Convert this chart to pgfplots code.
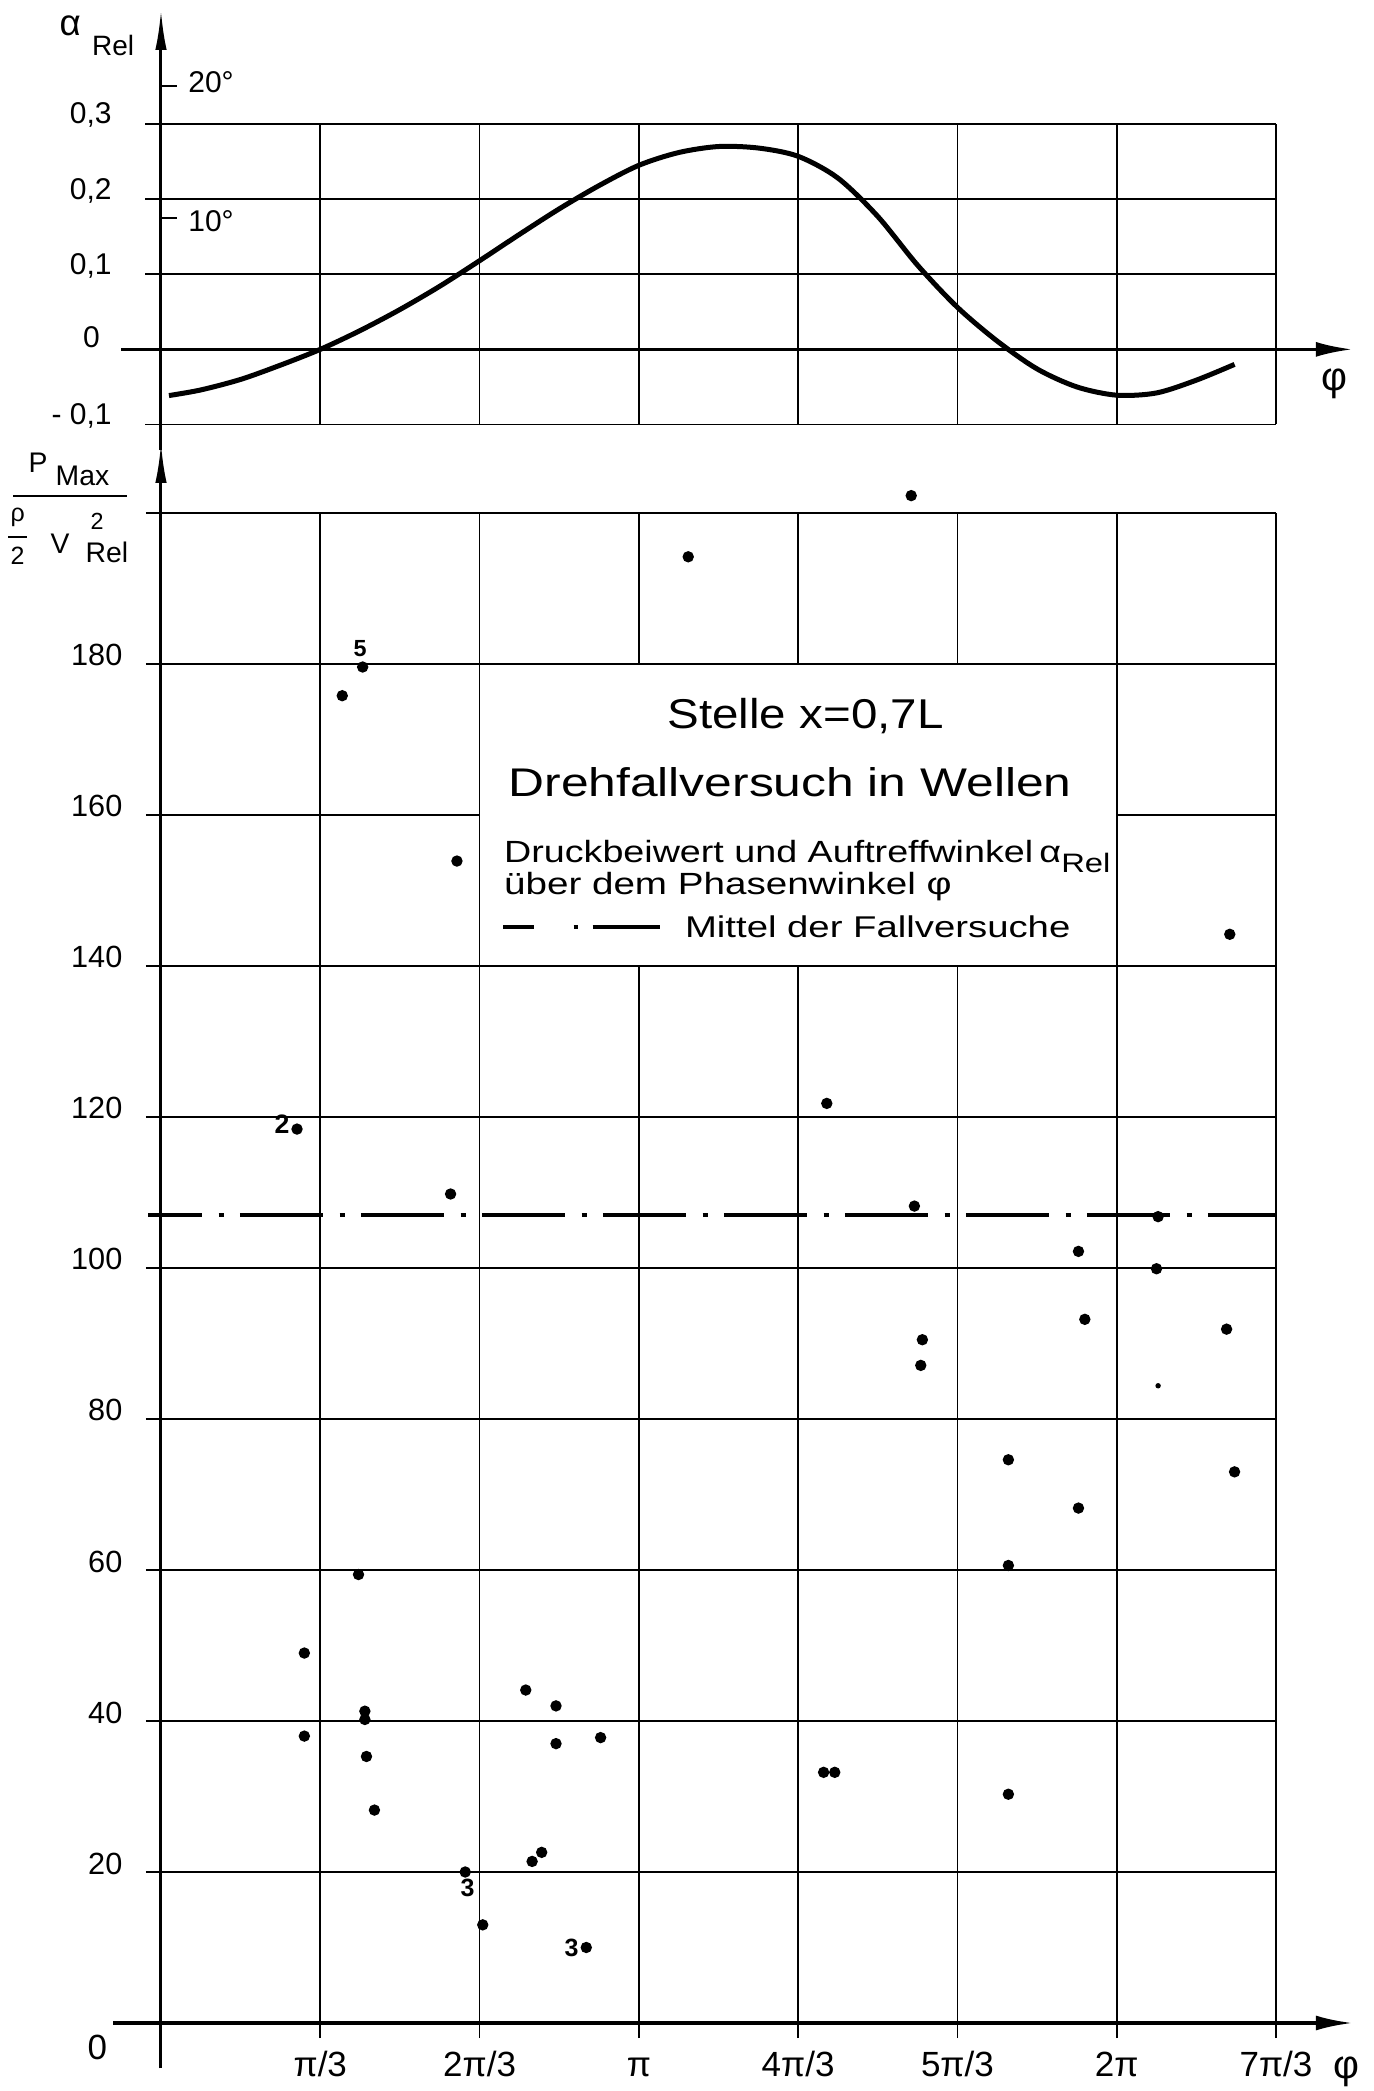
\documentclass[border=0pt]{standalone}
\usepackage{fontspec}
\setmainfont{Liberation Sans}
\usepackage{graphicx}
\usepackage{pgfplots}
\pgfplotsset{compat=1.18}
\usetikzlibrary{arrows.meta}
\newcommand\ylab{\fontsize{9.2}{10}\selectfont}
\newcommand\xlab{\fontsize{10.5}{11}\selectfont}
\newcommand\tlab{\fontsize{9}{10}\selectfont}
\begin{document}
\begin{tikzpicture}
\useasboundingbox (-48.3pt,-20.4pt) rectangle (363.9pt,606.9pt);
% ---------------- top chart: alpha_Rel over phi ----------------
\begin{axis}[at={(0pt,479.55pt)}, anchor=south west, scale only axis,
  width=334.5pt, height=90.15pt,
  xmin=0, xmax=7, ymin=-0.1, ymax=0.3,
  axis line style={draw=none},
  xtick={1,...,7}, ytick={-0.1,0,0.1,0.2,0.3},
  xticklabels={}, yticklabels={},
  xtick style={draw=none}, ytick pos=left, tick align=outside,
  major tick length=4.7pt, ytick style={black,line width=0.5pt},
  grid=major, grid style={black,line width=0.5pt}, clip=false]
\addplot[line width=1.5pt, smooth, black] coordinates {
 (0.05,-0.0615) (0.25,-0.054) (0.5,-0.040) (0.75,-0.021) (1.0,0) (1.25,0.025)
 (1.5,0.053) (1.75,0.084) (2.0,0.118) (2.25,0.153) (2.5,0.187) (2.75,0.218)
 (3.0,0.245) (3.25,0.262) (3.5,0.270) (3.75,0.268) (4.0,0.257) (4.25,0.228)
 (4.5,0.177) (4.75,0.112) (5.0,0.056) (5.25,0.011) (5.5,-0.026) (5.75,-0.050)
 (6.0,-0.061) (6.25,-0.058) (6.5,-0.041) (6.74,-0.020)};
\draw[line width=1pt, -{Latex[length=11pt,width=4.5pt]}] (axis cs:-0.25,0) -- (axis cs:7.48,0);
\draw[line width=0.9pt, -{Latex[length=12pt,width=3.4pt]}] (axis cs:0,-0.134) -- (axis cs:0,0.452);
\node[anchor=base east, font=\tlab] at ([xshift=-11.3pt]axis cs:0,0.3) {0,3};
\node[anchor=base east, font=\tlab] at ([xshift=-11.3pt]axis cs:0,0.2) {0,2};
\node[anchor=base east, font=\tlab] at ([xshift=-11.3pt]axis cs:0,0.1) {0,1};
\node[anchor=base east, font=\tlab] at ([xshift=-14.8pt,yshift=0.6pt]axis cs:0,0) {0};
\node[anchor=base east, font=\tlab] at ([xshift=-11.3pt]axis cs:0,-0.1) {- 0,1};
\draw[line width=0.6pt] (axis cs:0,0.3506) -- ([xshift=4.7pt]axis cs:0,0.3506);
\draw[line width=0.6pt] (axis cs:0,0.1745) -- ([xshift=4.7pt]axis cs:0,0.1745);
\node[anchor=west, font=\tlab, inner sep=0pt] at ([xshift=8pt,yshift=1pt]axis cs:0,0.3506) {20°};
\node[anchor=west, font=\tlab, inner sep=0pt] at ([xshift=8pt,yshift=-1pt]axis cs:0,0.1745) {10°};
\node[font=\fontsize{11}{12}\selectfont, inner sep=0pt] at (axis cs:-0.57,0.431) {α};
\node[font=\fontsize{8.4}{9}\selectfont, inner sep=0pt] at (axis cs:-0.30,0.405) {Rel};
\node[font=\fontsize{12}{13}\selectfont, inner sep=0pt] at (axis cs:7.365,-0.0457) {φ};
\end{axis}
% ---------------- bottom chart: pressure coefficient ----------------
\begin{axis}[at={(0pt,0pt)}, anchor=south west, scale only axis,
  width=334.5pt, height=453pt,
  xmin=0, xmax=7, ymin=0, ymax=200,
  axis line style={draw=none},
  xtick={1,...,7}, ytick={20,40,...,200},
  xticklabels={}, yticklabels={},
  xtick pos=bottom, ytick pos=left, tick align=outside,
  major tick length=4.5pt, tick style={black,line width=0.5pt},
  grid=major, grid style={black,line width=0.5pt}, clip=false]
% text box
\fill[white] (axis cs:2,140) rectangle (axis cs:6,180);
\draw[black,line width=0.5pt] (axis cs:2,140) rectangle (axis cs:6,180);
% mean of drop tests
\addplot[black, line width=1.2pt, dash pattern=on 25pt off 4.9pt on 1.5pt off 4.9pt, dash phase=8.8pt] coordinates {(-0.08,107) (7,107)};
% measured points
\addplot[only marks, mark=*, mark size=1.5pt, black] table {
x y
0.854 118.4
1.138 175.8
1.266 179.6
1.858 153.9
1.818 109.8
0.90 49.0
0.90 38.0
1.24 59.4
1.28 41.3
1.28 40.2
1.29 35.3
1.34 28.2
2.29 44.1
2.48 42.0
2.48 37.0
2.76 37.8
1.91 20.0
2.02 13.0
2.39 22.6
2.33 21.4
2.67 10.0
3.31 194.2
4.71 202.3
6.71 144.2
4.18 121.8
4.73 108.2
4.78 90.5
4.77 87.1
6.26 106.8
5.76 102.2
6.25 99.9
5.80 93.2
6.69 91.9
5.32 74.6
6.74 73.0
5.76 68.2
5.32 60.6
4.16 33.2
4.23 33.2
5.32 30.3
};
\addplot[only marks, mark=*, mark size=0.6pt, black] coordinates {(6.26,84.4)};
% point annotations
\node[font=\bfseries\fontsize{8}{9}\selectfont, inner sep=0pt] at (axis cs:0.76,119.0) {2};
\node[font=\bfseries\fontsize{7}{8}\selectfont, inner sep=0pt] at (axis cs:1.25,182.0) {5};
\node[font=\bfseries\fontsize{7.5}{8}\selectfont, inner sep=0pt] at (axis cs:1.925,17.9) {3};
\node[font=\bfseries\fontsize{7.5}{8}\selectfont, inner sep=0pt] at (axis cs:2.577,10.0) {3};
% axes with arrows
\draw[line width=1pt, -{Latex[length=11pt,width=4.5pt]}] (axis cs:-0.30,0) -- (axis cs:7.48,0);
\draw[line width=0.9pt, -{Latex[length=12pt,width=3.4pt]}] (axis cs:0,-6) -- (axis cs:0,209.3);
% y tick labels
\pgfplotsinvokeforeach{20,40,...,180}{
  \node[anchor=base east, font=\ylab, inner sep=0pt] at ([xshift=-11.4pt,yshift=-0.6pt]axis cs:0,#1) {#1};
}
% x tick labels
\node[anchor=base, font=\xlab, inner sep=0pt] at ([yshift=-15.9pt]axis cs:1,0) {π/3};
\node[anchor=base, font=\xlab, inner sep=0pt] at ([yshift=-15.9pt]axis cs:2,0) {2π/3};
\node[anchor=base, font=\xlab, inner sep=0pt] at ([yshift=-15.9pt]axis cs:3,0) {π};
\node[anchor=base, font=\xlab, inner sep=0pt] at ([yshift=-15.9pt]axis cs:4,0) {4π/3};
\node[anchor=base, font=\xlab, inner sep=0pt] at ([yshift=-15.9pt]axis cs:5,0) {5π/3};
\node[anchor=base, font=\xlab, inner sep=0pt] at ([yshift=-15.9pt]axis cs:6,0) {2π};
\node[anchor=base, font=\xlab, inner sep=0pt] at ([yshift=-15.9pt]axis cs:7,0) {7π/3};
\node[font=\fontsize{12}{13}\selectfont, inner sep=0pt] at (axis cs:7.44,-6.5) {φ};
\node[font=\xlab, inner sep=0pt] at (axis cs:-0.40,-3.2) {0};
% y axis label  P_Max / (rho/2 V^2_Rel)
\node[anchor=base west, font=\fontsize{8.5}{9}\selectfont, inner sep=0pt] at (axis cs:-0.835,205.3) {P};
\node[anchor=base west, font=\fontsize{8.5}{9}\selectfont, inner sep=0pt] at (axis cs:-0.665,203.7) {Max};
\draw[line width=0.7pt] (axis cs:-0.929,202.25) -- (axis cs:-0.213,202.25);
\node[font=\fontsize{7.5}{8}\selectfont, inner sep=0pt] at (axis cs:-0.90,199.4) {ρ};
\draw[line width=0.6pt] (axis cs:-0.96,196.8) -- (axis cs:-0.84,196.8);
\node[font=\fontsize{7.5}{8}\selectfont, inner sep=0pt] at (axis cs:-0.90,194.4) {2};
\node[anchor=base west, font=\fontsize{8.5}{9}\selectfont, inner sep=0pt] at (axis cs:-0.697,194.7) {V};
\node[anchor=base west, font=\fontsize{7}{8}\selectfont, inner sep=0pt] at (axis cs:-0.446,197.8) {2};
\node[anchor=base west, font=\fontsize{8.5}{9}\selectfont, inner sep=0pt] at (axis cs:-0.477,193.4) {Rel};
% text in the box
\node[anchor=base west, inner sep=0pt] at (axis cs:3.176,171.5) {\resizebox{82.8pt}{\height}{\fontsize{12.5}{14}\selectfont Stelle x=0,7L}};
\node[anchor=base west, inner sep=0pt] at (axis cs:2.178,162.5) {\resizebox{168.9pt}{\height}{\fontsize{12}{14}\selectfont Drehfallversuch in Wellen}};
\node[anchor=base west, inner sep=0pt] at (axis cs:2.15,153.7) {\resizebox{181.9pt}{\height}{\fontsize{9.2}{11}\selectfont Druckbeiwert und Auftreffwinkel\,α\raisebox{-0.32em}{\fontsize{8}{9}\selectfont Rel}}};
\node[anchor=base west, inner sep=0pt] at (axis cs:2.15,149.5) {\resizebox{134.3pt}{\height}{\fontsize{9.2}{11}\selectfont über dem Phasenwinkel φ}};
\draw[line width=1.2pt] (axis cs:2.15,145.1) -- (axis cs:2.34,145.1);
\draw[line width=1.2pt] (axis cs:2.59,145.1) -- (axis cs:2.615,145.1);
\draw[line width=1.2pt] (axis cs:2.71,145.1) -- (axis cs:3.135,145.1);
\node[anchor=base west, inner sep=0pt] at (axis cs:3.286,143.8) {\resizebox{115.6pt}{\height}{\fontsize{9}{11}\selectfont Mittel der Fallversuche}};
\end{axis}
\end{tikzpicture}
\end{document}
